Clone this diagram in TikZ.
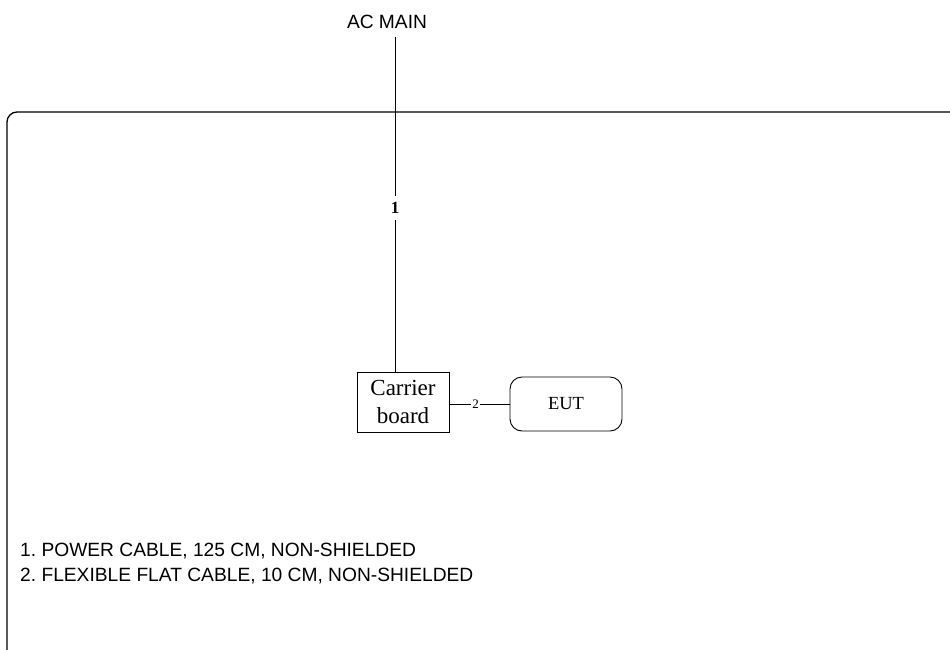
\documentclass[tikz,border=0pt]{standalone}
\usepackage{fontspec}
\setmainfont{Liberation Serif}
\setsansfont{Liberation Sans}
\frenchspacing
\begin{document}
\begin{tikzpicture}[x=1pt,y=-1pt,
  sanslabel/.style={font=\sffamily\fontsize{19.2}{25}\selectfont, inner sep=0pt},
  titlelabel/.style={font=\sffamily\fontsize{19.2}{22}\selectfont, inner sep=0pt},
  boxsquare/.style={draw, line width=0.9pt, minimum width=92pt, minimum height=60pt, inner sep=0pt, align=center, font=\fontsize{23}{27.5}\selectfont},
  boxround/.style={draw, line width=0.9pt, rounded corners=12pt, minimum width=112pt, minimum height=54pt, inner sep=0pt, font=\fontsize{18.5}{21}\selectfont},
  cableone/.style={inner sep=0pt, minimum height=24pt, font=\bfseries\fontsize{17}{19}\selectfont},
  cabletwo/.style={inner sep=1pt, font=\fontsize{13}{15}\selectfont},
  wire/.style={line width=0.7pt}]
\useasboundingbox (0,0) rectangle (950,649);
\clip (0,0) rectangle (950,649);
\draw[line width=1.3pt, rounded corners=10pt] (7,112) rectangle (1000,700);
\node[titlelabel] (ac) at (387,22) {AC MAIN};
\coordinate (acend) at (395,37);
\node[boxsquare] (cb) at (403,402) {Carrier\\board};
\node[boxround] (eut) at (566,404) {EUT};
\node[cableone] (l1) at (395,208) {1};
\node[cabletwo] (l2) at (475.5,404) {2};
\draw[wire] (acend) -- (l1.north);
\draw[wire] (l1.south) -- (l1.south |- cb.north);
\draw[wire] (cb.east |- l2) -- (l2.west);
\draw[wire] (l2.east) -- (eut.west |- l2);
\node[sanslabel, anchor=west, align=left] (legend) at (20,563.5) {1. POWER CABLE, 125 CM, NON-SHIELDED\\2. FLEXIBLE FLAT CABLE, 10 CM, NON-SHIELDED};
\end{tikzpicture}
\end{document}
